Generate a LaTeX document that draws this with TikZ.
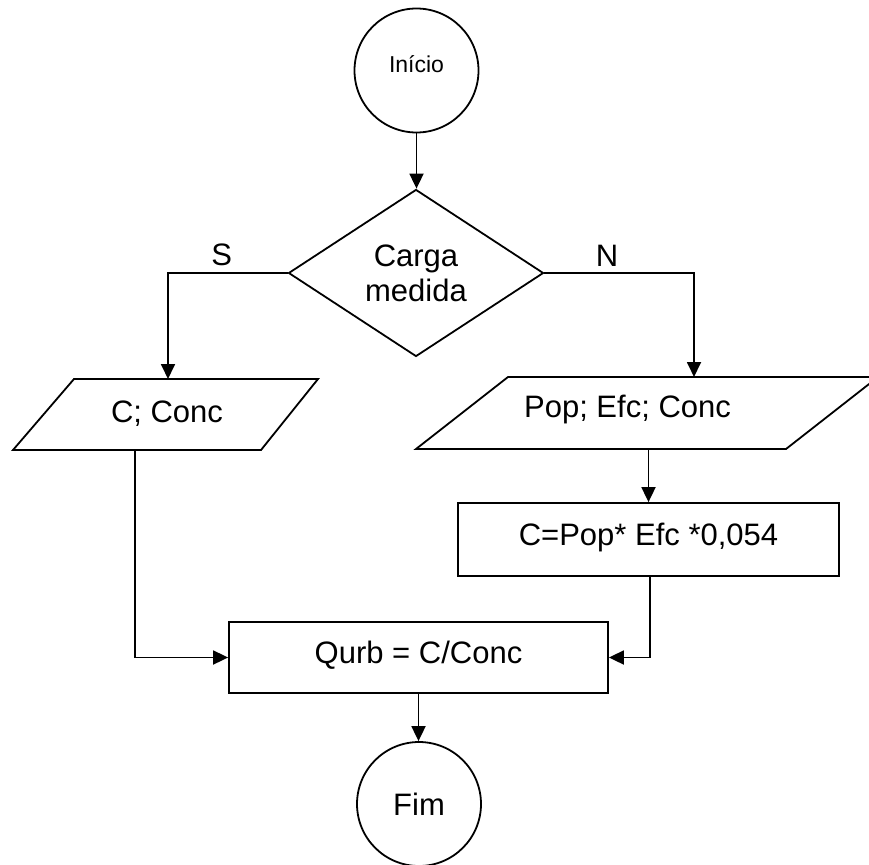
\documentclass[tikz,border=0pt]{standalone}
\usepackage{fontspec}
\setmainfont{Liberation Sans}
\usetikzlibrary{shapes.geometric,arrows.meta,calc}
\begin{document}
\begin{tikzpicture}[x=1pt,y=-1pt,
  line width=1.8pt,
  every node/.style={font=\fontsize{31}{35}\selectfont, inner sep=0pt},
  term/.style={circle,draw,minimum size=124pt},
  decis/.style={diamond,draw,minimum width=255pt,minimum height=167pt,align=center},
  proc/.style={rectangle,draw,text height=22pt,text depth=10pt},
  iobox/.style={rectangle,outer sep=0pt},
  lbl/.style={text height=22pt,text depth=0pt},
  conn/.style={-{Triangle[length=15pt,width=14pt]}},
]
\useasboundingbox (0,0) rectangle (869,864);
\clip (0,0) rectangle (869,864);

% nodes
\node[term,font=\fontsize{23}{26}\selectfont,text height=16.5pt,text depth=12pt] (ini) at (416.5,70.5) {Início};
\node[decis] (dec) at (416,273) {Carga\\medida};

\node[iobox,minimum width=305pt,minimum height=71pt] (in1) at (165.5,414.5) {};
\draw (in1.south west) -- ($(in1.north west)+(61,0)$) -- (in1.north east) -- ($(in1.south east)+(-57,0)$) -- cycle;
\node[lbl] (in1t) at (167,411) {C; Conc};

\node[iobox,minimum width=462pt,minimum height=72pt] (in2) at (647,413) {};
\draw (in2.south west) -- ($(in2.north west)+(92,0)$) -- (in2.north east) -- ($(in2.south east)+(-92,0)$) -- cycle;
\node[lbl] (in2t) at (627.5,406.7) {Pop; Efc; Conc};

\node[proc,minimum width=381pt,minimum height=73pt] (p1) at (648.5,539.5) {C=Pop* Efc *0,054};
\node[proc,minimum width=379pt,minimum height=71pt] (qurb) at (418.5,657.5) {Qurb = C/Conc};
\node[term] (fim) at (419,804) {Fim};

% labels
\node[lbl] (S) at (221.7,254) {S};
\node[lbl] (N) at (607,255) {N};

% connectors
\draw[conn] (ini.south) -- (ini.south |- dec.north);
\coordinate (sb) at (168,273);
\draw[conn] (dec.west) -- (sb) -- (sb |- in1.north);
\coordinate (nb) at (694,273);
\draw[conn] (dec.east) -- (nb) -- (nb |- in2.north);
\draw[conn] (p1.north |- in2.south) -- (p1.north);
\coordinate (lb) at (135,657.5);
\draw[conn] (lb |- in1.south) -- (lb) -- (qurb.west);
\coordinate (rb) at (650,657.5);
\draw[conn] (rb |- p1.south) -- (rb) -- (qurb.east);
\draw[conn] (qurb.south) -- (qurb.south |- fim.north);
\end{tikzpicture}
\end{document}
